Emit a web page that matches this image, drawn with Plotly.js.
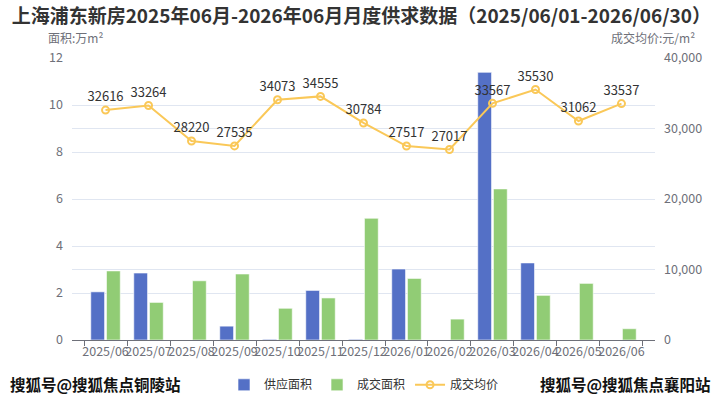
<!DOCTYPE html>
<html><head><meta charset="utf-8">
<script src="https://cdn.plot.ly/plotly-3.0.1.min.js"></script>
<style>html,body{margin:0;padding:0;background:#fff;}#chart{width:728px;height:400px;}</style>
</head><body><div id="chart"></div>
<script>
const months = ["2025/06","2025/07","2025/08","2025/09","2025/10","2025/11","2025/12","2026/01","2026/02","2026/03","2026/04","2026/05","2026/06"];
const supplyArea = [2.05, 2.85, 0, 0.59, 0.03, 2.11, 0.03, 3.02, 0, 11.39, 3.28, 0, 0];
const dealArea = [2.94, 1.6, 2.52, 2.81, 1.35, 1.79, 5.18, 2.62, 0.89, 6.43, 1.9, 2.41, 0.48];
const avgPrice = [32616, 33264, 28220, 27535, 34073, 34555, 30784, 27517, 27017, 33567, 35530, 31062, 33537];

const font = "'Noto Sans CJK SC', 'Noto Sans', sans-serif";
const data = [
  {type:'bar', name:'供应面积', x:months, y:supplyArea, marker:{color:'#5470c6', line:{color:'rgba(255,255,255,0.6)', width:1}}},
  {type:'bar', name:'成交面积', x:months, y:dealArea, marker:{color:'#91cc75', line:{color:'rgba(255,255,255,0.6)', width:1}}},
  {type:'scatter', mode:'lines+markers+text', name:'成交均价', x:months, y:avgPrice, yaxis:'y2',
   line:{color:'#fac858', width:2}, marker:{symbol:'circle-open', size:7, color:'#fac858', line:{width:2}},
   text:avgPrice.map(String), textposition:'top center', textfont:{size:13, color:'#333', family:font}, cliponaxis:false}
];
const layout = {
  width:728, height:400,
  margin:{l:72, r:73, t:58, b:60, autoexpand:false},
  paper_bgcolor:'#fff', plot_bgcolor:'#fff',
  font:{family:font, color:'#6e7079', size:12},
  bargap:0.27, bargroupgap:0.12, barmode:'group',
  showlegend:true,
  legend:{orientation:'h', x:0.5, xanchor:'center', xref:'container', yref:'container', y:0.038, yanchor:'middle', font:{size:12, color:'#333'}, itemwidth:30},
  xaxis:{type:'category', tickson:'boundaries', ticks:'outside', ticklen:5, tickcolor:'#6e7079', automargin:false,
         showline:true, linecolor:'#6e7079', showgrid:false, tickfont:{size:12.5, color:'#6e7079'}, tickangle:0},
  yaxis:{range:[0,12], dtick:2, showgrid:true, gridcolor:'#e0e6f1', zeroline:false, showline:false, automargin:false,
         tickfont:{size:12.5, color:'#6e7079'}, ticks:'', ticklabelstandoff:8},
  yaxis2:{range:[0,40000], dtick:10000, overlaying:'y', side:'right', showgrid:true, gridcolor:'#e0e6f1', automargin:false,
          zeroline:false, tickformat:',d', tickfont:{size:12.5, color:'#6e7079'}, ticklabelstandoff:8},
  title:{text:'<b>上海浦东新房2025年06月-2026年06月月度供求数据（2025/06/01-2026/06/30）</b>', x:0.016, xanchor:'left', y:0.975, yanchor:'top',
         font:{size:19, color:'#333', family:font}},
  annotations:[
    {text:'面积:万m²', xref:'paper', yref:'paper', x:-0.045, xanchor:'left', y:1.035, yanchor:'bottom', showarrow:false, font:{size:12, color:'#6e7079'}},
    {text:'成交均价:元/m²', xref:'paper', yref:'paper', x:1.072, xanchor:'right', y:1.035, yanchor:'bottom', showarrow:false, font:{size:12, color:'#6e7079'}},
    {text:'<b>搜狐号@搜狐焦点铜陵站</b>', xref:'paper', yref:'paper', x:-0.11, xanchor:'left', y:-0.155, yanchor:'middle', showarrow:false, font:{size:15.5, color:'#111'}},
    {text:'<b>搜狐号@搜狐焦点襄阳站</b>', xref:'paper', yref:'paper', x:1.1, xanchor:'right', y:-0.155, yanchor:'middle', showarrow:false, font:{size:15.5, color:'#111'}}
  ]
};
Plotly.newPlot('chart', data, layout, {displayModeBar:false, staticPlot:true});
</script></body></html>
